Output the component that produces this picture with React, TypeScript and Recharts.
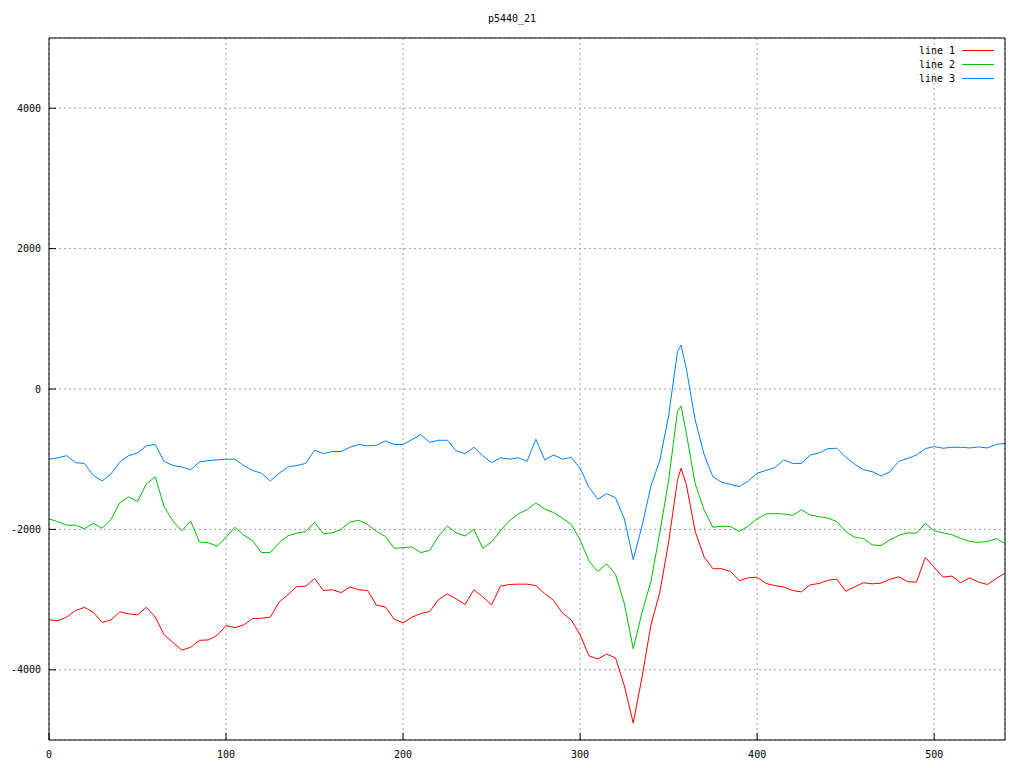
import { CartesianGrid, Line, LineChart, XAxis, YAxis } from 'recharts';

const xs = [
  0, 5, 10, 15, 20, 25, 30, 35, 40, 45, 50, 55, 60, 65, 70, 75, 80, 85, 90, 95,
  100, 105, 110, 115, 120, 125, 130, 135, 140, 145, 150, 155, 160, 165, 170, 175, 180, 185, 190, 195,
  200, 205, 210, 215, 220, 225, 230, 235, 240, 245, 250, 255, 260, 265, 270, 275, 280, 285, 290, 295,
  300, 305, 310, 315, 320, 325, 330, 335, 340, 345, 350, 355, 357, 360, 365, 370, 375, 380, 385, 390, 395,
  400, 405, 410, 415, 420, 425, 430, 435, 440, 445, 450, 455, 460, 465, 470, 475, 480, 485, 490, 495,
  500, 505, 510, 515, 520, 525, 530, 535, 540,
];

// line 1 (red)
const line1 = [
  -3288, -3300, -3250, -3156, -3110, -3180, -3325, -3290, -3175, -3203, -3217, -3110, -3250, -3500, -3610, -3720, -3680, -3580, -3575, -3510,
  -3370, -3400, -3360, -3270, -3265, -3250, -3035, -2930, -2814, -2810, -2700, -2870, -2860, -2900, -2820, -2860, -2870, -3080, -3105, -3280,
  -3330, -3250, -3200, -3170, -3000, -2920, -2990, -3070, -2860, -2960, -3075, -2808, -2785, -2780, -2780, -2800, -2915, -3010, -3190, -3290,
  -3502, -3800, -3846, -3775, -3830, -4230, -4760, -4100, -3360, -2900, -2180, -1300, -1129, -1360, -2030, -2390, -2560, -2560, -2600, -2730, -2690,
  -2680, -2770, -2800, -2820, -2871, -2890, -2790, -2770, -2725, -2709, -2880, -2820, -2760, -2775, -2765, -2710, -2675, -2745, -2750, -2400,
  -2540, -2680, -2665, -2760, -2690, -2750, -2785, -2700, -2624,
];

// line 2 (green)
const line2 = [
  -1850, -1890, -1940, -1940, -1990, -1915, -1983, -1860, -1620, -1535, -1604, -1350, -1250, -1675, -1880, -2020, -1880, -2180, -2190, -2240,
  -2110, -1970, -2080, -2160, -2330, -2330, -2190, -2090, -2054, -2030, -1900, -2060, -2050, -2000, -1895, -1870, -1930, -2030, -2100, -2270,
  -2260, -2250, -2330, -2300, -2100, -1950, -2050, -2093, -2000, -2268, -2180, -2020, -1880, -1780, -1720, -1620, -1710, -1760, -1840, -1930,
  -2150, -2450, -2600, -2490, -2640, -3060, -3700, -3180, -2740, -2050, -1300, -320, -242, -630, -1350, -1720, -1970, -1955, -1960, -2030, -1950,
  -1850, -1780, -1775, -1780, -1800, -1720, -1794, -1820, -1838, -1889, -2030, -2110, -2130, -2220, -2230, -2150, -2085, -2050, -2054, -1912,
  -2020, -2050, -2075, -2130, -2170, -2185, -2173, -2130, -2200,
];

// line 3 (blue)
const line3 = [
  -1000, -980, -950, -1050, -1060, -1230, -1310, -1210, -1040, -950, -910, -810, -790, -1030, -1090, -1110, -1150, -1040, -1020, -1010,
  -1000, -1000, -1090, -1160, -1200, -1310, -1200, -1110, -1090, -1060, -870, -920, -890, -890, -830, -790, -810, -800, -740, -790,
  -790, -720, -650, -760, -730, -730, -880, -920, -830, -950, -1050, -980, -1000, -980, -1030, -716, -1010, -940, -1000, -975,
  -1130, -1400, -1570, -1490, -1550, -1850, -2430, -1950, -1380, -1020, -380, 530, 626, 290, -441, -930, -1250, -1330, -1360, -1390, -1310,
  -1200, -1160, -1120, -1010, -1060, -1060, -940, -910, -850, -844, -970, -1070, -1150, -1177, -1240, -1180, -1030, -990, -940, -850,
  -820, -844, -830, -830, -840, -825, -840, -790, -775,
];

const xTicks = [0, 100, 200, 300, 400, 500];
const yTicks = [-4000, -2000, 0, 2000, 4000];
const seriesKeys = ['line1', 'line2', 'line3'];
const seriesNames = ['line 1', 'line 2', 'line 3'];
const seriesColors = ['#ff0000', '#00c000', '#0080ff'];
const title = 'p5440_21';

const data = xs.map((x, i) => ({ x, line1: line1[i], line2: line2[i], line3: line3[i] }));

const font = '"DejaVu Sans Mono", monospace';
const tickStyle = { fontSize: 10, fontFamily: font, fill: '#000' };

export default function App() {
  return (
    <div style={{ position: 'absolute', left: 0, top: 0, width: 1024, height: 768, background: '#fff' }}>
      <div
        style={{
          position: 'absolute',
          top: 13,
          left: 0,
          width: 1024,
          textAlign: 'center',
          fontFamily: font,
          fontSize: 10,
          color: '#000',
        }}
      >
        {title}
      </div>
      <LineChart width={1024} height={768} data={data} margin={{ top: 37, right: 18, bottom: 0, left: 0 }}>
        <CartesianGrid stroke="#a0a0a0" strokeDasharray="2 3" />
        <XAxis
          dataKey="x"
          type="number"
          domain={[0, 540]}
          ticks={xTicks}
          allowDataOverflow
          height={28}
          stroke="#000"
          tickSize={-7}
          tickMargin={18}
          tick={tickStyle}
        />
        <XAxis
          xAxisId="top"
          orientation="top"
          type="number"
          domain={[0, 540]}
          ticks={xTicks}
          allowDataOverflow
          height={1}
          stroke="#000"
          tickSize={-7}
          tick={false}
        />
        <YAxis
          type="number"
          domain={[-5000, 5000]}
          ticks={yTicks}
          allowDataOverflow
          width={49}
          stroke="#000"
          tickSize={-7}
          tickMargin={15}
          tick={tickStyle}
        />
        <YAxis
          yAxisId="right"
          orientation="right"
          type="number"
          domain={[-5000, 5000]}
          ticks={yTicks}
          allowDataOverflow
          width={1}
          stroke="#000"
          tickSize={-7}
          tick={false}
        />
        {seriesKeys.map((k, i) => (
          <Line
            key={k}
            dataKey={k}
            name={seriesNames[i]}
            stroke={seriesColors[i]}
            strokeWidth={1}
            dot={false}
            type="linear"
            isAnimationActive={false}
          />
        ))}
      </LineChart>
      <div style={{ position: 'absolute', top: 43, left: 880, width: 118, fontFamily: font, fontSize: 10, color: '#000' }}>
        {seriesNames.map((n, i) => (
          <div key={n} style={{ display: 'flex', alignItems: 'center', justifyContent: 'flex-end', height: 14 }}>
            <span style={{ marginRight: 7 }}>{n}</span>
            <span style={{ display: 'inline-block', width: 32, height: 1, background: seriesColors[i], marginRight: 4 }} />
          </div>
        ))}
      </div>
    </div>
  );
}
